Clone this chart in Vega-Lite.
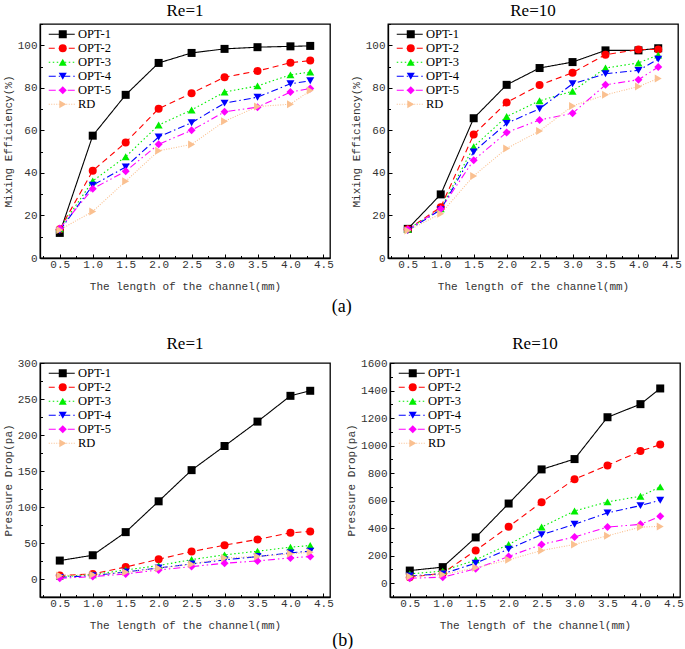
{
  "$schema": "https://vega.github.io/schema/vega-lite/v6.json",
  "padding": {"left": 1, "top": 0, "right": 0, "bottom": 0},
  "config": {
    "view": {"stroke": "#000", "strokeWidth": 1.3},
    "axis": {"grid": false, "domainColor": "#000", "domainWidth": 1.3, "tickColor": "#000", "tickWidth": 1, "tickSize": -4, "labelFont": "Liberation Mono", "labelFontSize": 11, "labelColor": "#333", "titleFont": "Liberation Mono", "titleFontSize": 11, "titleFontWeight": "normal", "titleColor": "#333"},
    "axisX": {"labelPadding": 4, "titlePadding": 11},
    "axisY": {"labelPadding": 7},
    "title": {"font": "Liberation Serif", "fontSize": 17, "fontWeight": "normal", "color": "#000", "offset": 4},
    "legend": {"labelFont": "Liberation Serif", "labelFontSize": 12.5, "labelColor": "#000", "rowPadding": 1, "padding": 0, "title": null}
  },
  "datasets": {
    "me1": [
      {"x":0.5,"y":11.8,"s":"OPT-1"},{"x":1.0,"y":57.5,"s":"OPT-1"},{"x":1.5,"y":76.7,"s":"OPT-1"},{"x":2.0,"y":91.7,"s":"OPT-1"},{"x":2.5,"y":96.4,"s":"OPT-1"},{"x":3.0,"y":98.3,"s":"OPT-1"},{"x":3.5,"y":99.1,"s":"OPT-1"},{"x":4.0,"y":99.5,"s":"OPT-1"},{"x":4.3,"y":99.7,"s":"OPT-1"},
      {"x":0.5,"y":13.5,"s":"OPT-2"},{"x":1.0,"y":41.0,"s":"OPT-2"},{"x":1.5,"y":54.3,"s":"OPT-2"},{"x":2.0,"y":70.2,"s":"OPT-2"},{"x":2.5,"y":77.5,"s":"OPT-2"},{"x":3.0,"y":85.0,"s":"OPT-2"},{"x":3.5,"y":87.9,"s":"OPT-2"},{"x":4.0,"y":91.8,"s":"OPT-2"},{"x":4.3,"y":92.8,"s":"OPT-2"},
      {"x":0.5,"y":13.7,"s":"OPT-3"},{"x":1.0,"y":36.2,"s":"OPT-3"},{"x":1.5,"y":47.6,"s":"OPT-3"},{"x":2.0,"y":62.5,"s":"OPT-3"},{"x":2.5,"y":69.6,"s":"OPT-3"},{"x":3.0,"y":78.0,"s":"OPT-3"},{"x":3.5,"y":80.9,"s":"OPT-3"},{"x":4.0,"y":86.1,"s":"OPT-3"},{"x":4.3,"y":87.4,"s":"OPT-3"},
      {"x":0.5,"y":12.9,"s":"OPT-4"},{"x":1.0,"y":34.2,"s":"OPT-4"},{"x":1.5,"y":42.8,"s":"OPT-4"},{"x":2.0,"y":56.9,"s":"OPT-4"},{"x":2.5,"y":63.6,"s":"OPT-4"},{"x":3.0,"y":72.8,"s":"OPT-4"},{"x":3.5,"y":75.6,"s":"OPT-4"},{"x":4.0,"y":81.9,"s":"OPT-4"},{"x":4.3,"y":83.3,"s":"OPT-4"},
      {"x":0.5,"y":13.9,"s":"OPT-5"},{"x":1.0,"y":32.6,"s":"OPT-5"},{"x":1.5,"y":40.8,"s":"OPT-5"},{"x":2.0,"y":53.5,"s":"OPT-5"},{"x":2.5,"y":60.0,"s":"OPT-5"},{"x":3.0,"y":68.7,"s":"OPT-5"},{"x":3.5,"y":70.9,"s":"OPT-5"},{"x":4.0,"y":78.0,"s":"OPT-5"},{"x":4.3,"y":79.7,"s":"OPT-5"},
      {"x":0.5,"y":13.2,"s":"RD"},{"x":1.0,"y":21.9,"s":"RD"},{"x":1.5,"y":36.1,"s":"RD"},{"x":2.0,"y":50.4,"s":"RD"},{"x":2.5,"y":53.4,"s":"RD"},{"x":3.0,"y":64.3,"s":"RD"},{"x":3.5,"y":71.2,"s":"RD"},{"x":4.0,"y":72.3,"s":"RD"},{"x":4.3,"y":78.7,"s":"RD"}
    ],
    "me10": [
      {"x":0.5,"y":13.7,"s":"OPT-1"},{"x":1.0,"y":29.9,"s":"OPT-1"},{"x":1.5,"y":65.7,"s":"OPT-1"},{"x":2.0,"y":81.4,"s":"OPT-1"},{"x":2.5,"y":89.3,"s":"OPT-1"},{"x":3.0,"y":92.1,"s":"OPT-1"},{"x":3.5,"y":97.6,"s":"OPT-1"},{"x":4.0,"y":97.6,"s":"OPT-1"},{"x":4.3,"y":98.6,"s":"OPT-1"},
      {"x":0.5,"y":13.5,"s":"OPT-2"},{"x":1.0,"y":23.9,"s":"OPT-2"},{"x":1.5,"y":58.0,"s":"OPT-2"},{"x":2.0,"y":73.1,"s":"OPT-2"},{"x":2.5,"y":81.3,"s":"OPT-2"},{"x":3.0,"y":87.1,"s":"OPT-2"},{"x":3.5,"y":95.6,"s":"OPT-2"},{"x":4.0,"y":98.0,"s":"OPT-2"},{"x":4.3,"y":98.0,"s":"OPT-2"},
      {"x":0.5,"y":13.5,"s":"OPT-3"},{"x":1.0,"y":23.1,"s":"OPT-3"},{"x":1.5,"y":52.3,"s":"OPT-3"},{"x":2.0,"y":66.5,"s":"OPT-3"},{"x":2.5,"y":73.9,"s":"OPT-3"},{"x":3.0,"y":78.4,"s":"OPT-3"},{"x":3.5,"y":89.3,"s":"OPT-3"},{"x":4.0,"y":91.7,"s":"OPT-3"},{"x":4.3,"y":95.4,"s":"OPT-3"},
      {"x":0.5,"y":12.9,"s":"OPT-4"},{"x":1.0,"y":22.7,"s":"OPT-4"},{"x":1.5,"y":49.9,"s":"OPT-4"},{"x":2.0,"y":63.3,"s":"OPT-4"},{"x":2.5,"y":70.2,"s":"OPT-4"},{"x":3.0,"y":81.9,"s":"OPT-4"},{"x":3.5,"y":86.6,"s":"OPT-4"},{"x":4.0,"y":88.2,"s":"OPT-4"},{"x":4.3,"y":93.5,"s":"OPT-4"},
      {"x":0.5,"y":13.5,"s":"OPT-5"},{"x":1.0,"y":23.0,"s":"OPT-5"},{"x":1.5,"y":46.0,"s":"OPT-5"},{"x":2.0,"y":59.0,"s":"OPT-5"},{"x":2.5,"y":64.9,"s":"OPT-5"},{"x":3.0,"y":68.0,"s":"OPT-5"},{"x":3.5,"y":81.4,"s":"OPT-5"},{"x":4.0,"y":83.8,"s":"OPT-5"},{"x":4.3,"y":89.8,"s":"OPT-5"},
      {"x":0.5,"y":12.9,"s":"RD"},{"x":1.0,"y":20.8,"s":"RD"},{"x":1.5,"y":38.6,"s":"RD"},{"x":2.0,"y":51.5,"s":"RD"},{"x":2.5,"y":59.7,"s":"RD"},{"x":3.0,"y":71.5,"s":"RD"},{"x":3.5,"y":76.7,"s":"RD"},{"x":4.0,"y":80.6,"s":"RD"},{"x":4.3,"y":84.4,"s":"RD"}
    ],
    "pd1": [
      {"x":0.5,"y":25.6,"s":"OPT-1"},{"x":1.0,"y":33.0,"s":"OPT-1"},{"x":1.5,"y":65.1,"s":"OPT-1"},{"x":2.0,"y":107.9,"s":"OPT-1"},{"x":2.5,"y":151.2,"s":"OPT-1"},{"x":3.0,"y":184.7,"s":"OPT-1"},{"x":3.5,"y":218.6,"s":"OPT-1"},{"x":4.0,"y":254.4,"s":"OPT-1"},{"x":4.3,"y":261.4,"s":"OPT-1"},
      {"x":0.5,"y":4.7,"s":"OPT-2"},{"x":1.0,"y":7.0,"s":"OPT-2"},{"x":1.5,"y":16.7,"s":"OPT-2"},{"x":2.0,"y":27.4,"s":"OPT-2"},{"x":2.5,"y":38.1,"s":"OPT-2"},{"x":3.0,"y":47.0,"s":"OPT-2"},{"x":3.5,"y":54.9,"s":"OPT-2"},{"x":4.0,"y":64.2,"s":"OPT-2"},{"x":4.3,"y":66.0,"s":"OPT-2"},
      {"x":0.5,"y":3.3,"s":"OPT-3"},{"x":1.0,"y":6.0,"s":"OPT-3"},{"x":1.5,"y":12.6,"s":"OPT-3"},{"x":2.0,"y":18.6,"s":"OPT-3"},{"x":2.5,"y":27.0,"s":"OPT-3"},{"x":3.0,"y":33.5,"s":"OPT-3"},{"x":3.5,"y":38.6,"s":"OPT-3"},{"x":4.0,"y":44.2,"s":"OPT-3"},{"x":4.3,"y":46.5,"s":"OPT-3"},
      {"x":0.5,"y":2.3,"s":"OPT-4"},{"x":1.0,"y":4.7,"s":"OPT-4"},{"x":1.5,"y":9.8,"s":"OPT-4"},{"x":2.0,"y":15.3,"s":"OPT-4"},{"x":2.5,"y":20.9,"s":"OPT-4"},{"x":3.0,"y":26.5,"s":"OPT-4"},{"x":3.5,"y":31.2,"s":"OPT-4"},{"x":4.0,"y":36.3,"s":"OPT-4"},{"x":4.3,"y":38.6,"s":"OPT-4"},
      {"x":0.5,"y":1.0,"s":"OPT-5"},{"x":1.0,"y":3.3,"s":"OPT-5"},{"x":1.5,"y":7.0,"s":"OPT-5"},{"x":2.0,"y":12.6,"s":"OPT-5"},{"x":2.5,"y":17.2,"s":"OPT-5"},{"x":3.0,"y":21.9,"s":"OPT-5"},{"x":3.5,"y":25.1,"s":"OPT-5"},{"x":4.0,"y":29.3,"s":"OPT-5"},{"x":4.3,"y":31.2,"s":"OPT-5"},
      {"x":0.5,"y":4.7,"s":"RD"},{"x":1.0,"y":6.0,"s":"RD"},{"x":1.5,"y":9.3,"s":"RD"},{"x":2.0,"y":14.9,"s":"RD"},{"x":2.5,"y":20.5,"s":"RD"},{"x":3.0,"y":29.3,"s":"RD"},{"x":3.5,"y":31.2,"s":"RD"},{"x":4.0,"y":34.9,"s":"RD"},{"x":4.3,"y":37.2,"s":"RD"}
    ],
    "pd10": [
      {"x":0.5,"y":92,"s":"OPT-1"},{"x":1.0,"y":117,"s":"OPT-1"},{"x":1.5,"y":333,"s":"OPT-1"},{"x":2.0,"y":579,"s":"OPT-1"},{"x":2.5,"y":827,"s":"OPT-1"},{"x":3.0,"y":902,"s":"OPT-1"},{"x":3.5,"y":1206,"s":"OPT-1"},{"x":4.0,"y":1301,"s":"OPT-1"},{"x":4.3,"y":1415,"s":"OPT-1"},
      {"x":0.5,"y":44,"s":"OPT-2"},{"x":1.0,"y":73,"s":"OPT-2"},{"x":1.5,"y":238,"s":"OPT-2"},{"x":2.0,"y":411,"s":"OPT-2"},{"x":2.5,"y":588,"s":"OPT-2"},{"x":3.0,"y":756,"s":"OPT-2"},{"x":3.5,"y":856,"s":"OPT-2"},{"x":4.0,"y":960,"s":"OPT-2"},{"x":4.3,"y":1007,"s":"OPT-2"},
      {"x":0.5,"y":68,"s":"OPT-3"},{"x":1.0,"y":88,"s":"OPT-3"},{"x":1.5,"y":170,"s":"OPT-3"},{"x":2.0,"y":282,"s":"OPT-3"},{"x":2.5,"y":408,"s":"OPT-3"},{"x":3.0,"y":525,"s":"OPT-3"},{"x":3.5,"y":591,"s":"OPT-3"},{"x":4.0,"y":632,"s":"OPT-3"},{"x":4.3,"y":700,"s":"OPT-3"},
      {"x":0.5,"y":53,"s":"OPT-4"},{"x":1.0,"y":68,"s":"OPT-4"},{"x":1.5,"y":146,"s":"OPT-4"},{"x":2.0,"y":248,"s":"OPT-4"},{"x":2.5,"y":353,"s":"OPT-4"},{"x":3.0,"y":428,"s":"OPT-4"},{"x":3.5,"y":511,"s":"OPT-4"},{"x":4.0,"y":564,"s":"OPT-4"},{"x":4.3,"y":603,"s":"OPT-4"},
      {"x":0.5,"y":36,"s":"OPT-5"},{"x":1.0,"y":44,"s":"OPT-5"},{"x":1.5,"y":105,"s":"OPT-5"},{"x":2.0,"y":195,"s":"OPT-5"},{"x":2.5,"y":282,"s":"OPT-5"},{"x":3.0,"y":336,"s":"OPT-5"},{"x":3.5,"y":408,"s":"OPT-5"},{"x":4.0,"y":428,"s":"OPT-5"},{"x":4.3,"y":486,"s":"OPT-5"},
      {"x":0.5,"y":49,"s":"RD"},{"x":1.0,"y":63,"s":"RD"},{"x":1.5,"y":112,"s":"RD"},{"x":2.0,"y":170,"s":"RD"},{"x":2.5,"y":238,"s":"RD"},{"x":3.0,"y":282,"s":"RD"},{"x":3.5,"y":345,"s":"RD"},{"x":4.0,"y":408,"s":"RD"},{"x":4.3,"y":413,"s":"RD"}
    ]
  },
  "spacing": 18,
  "resolve": {"scale": {"stroke": "independent", "strokeDash": "independent", "fill": "independent", "shape": "independent"}},
  "vconcat": [
    {
      "title": {"text": "(a)", "orient": "bottom", "anchor": "middle", "fontSize": 18, "offset": 6},
      "spacing": 15,
      "resolve": {"scale": {"stroke": "independent", "strokeDash": "independent", "fill": "independent", "shape": "independent"}},
      "hconcat": [
        {
          "width": 290, "height": 234,
          "title": {"text": "Re=1"},
          "data": {"name": "me1"},
          "resolve": {"axis": {"x": "independent", "y": "independent"}},
          "layer": [
            {"mark": {"type": "line", "strokeWidth": 1.1},
             "encoding": {
               "x": {"field": "x", "type": "quantitative", "scale": {"domain": [0.2, 4.6], "nice": false, "zero": false}, "axis": {"orient": "bottom", "values": [0.5,1,1.5,2,2.5,3,3.5,4,4.5], "format": ".1f", "title": "The length of the channel(mm)"}},
               "y": {"field": "y", "type": "quantitative", "scale": {"domain": [0, 110], "nice": false, "zero": false}, "axis": {"orient": "left", "values": [0,20,40,60,80,100], "title": "Mixing Efficiency(%)"}},
               "stroke": {"field": "s", "type": "nominal", "scale": {"domain": ["OPT-1","OPT-2","OPT-3","OPT-4","OPT-5","RD"], "range": ["#000000","#FF0000","#00EE00","#0000FF","#FF00FF","#FAC090"]}, "legend": {"orient": "none", "legendX": 15.5, "legendY": 4, "symbolType": "M-2.6,0H2.6", "symbolSize": 100, "symbolStrokeWidth": 1.1, "labelOffset": 10}},
               "strokeDash": {"field": "s", "type": "nominal", "scale": {"domain": ["OPT-1","OPT-2","OPT-3","OPT-4","OPT-5","RD"], "range": [[1,0],[6,4],[1.5,2.5],[7,3,1.5,3],[7,3,1.5,3,1.5,3],[1,1.5]]}, "legend": {"orient": "none", "legendX": 15.5, "legendY": 4, "symbolType": "M-2.6,0H2.6", "symbolSize": 100, "symbolStrokeWidth": 1.1, "labelOffset": 10}}
             }},
            {"mark": {"type": "point", "filled": true, "size": 64, "opacity": 1},
             "encoding": {
               "x": {"field": "x", "type": "quantitative", "scale": {"domain": [0.2, 4.6], "nice": false, "zero": false}, "axis": {"orient": "bottom", "values": [0.25,0.75,1.25,1.75,2.25,2.75,3.25,3.75,4.25], "labels": false, "domain": false, "title": null, "tickSize": -2.5}},
               "y": {"field": "y", "type": "quantitative", "scale": {"domain": [0, 110], "nice": false, "zero": false}, "axis": {"orient": "left", "values": [10,30,50,70,90,110], "labels": false, "domain": false, "title": null, "tickSize": -2.5}},
               "fill": {"field": "s", "type": "nominal", "scale": {"range": ["#000000","#FF0000","#00EE00","#0000FF","#FF00FF","#FAC090"]}, "legend": {"orient": "none", "legendX": 16.5, "legendY": 4, "labelExpr": "' '", "symbolSize": 64, "symbolStrokeWidth": 0}},
               "shape": {"field": "s", "type": "nominal", "scale": {"range": ["square","circle","triangle-up","triangle-down","diamond","triangle-right"]}, "legend": {"orient": "none", "legendX": 16.5, "legendY": 4, "labelExpr": "' '", "symbolSize": 64, "symbolStrokeWidth": 0}}
             }}
          ]
        },
        {
          "width": 290, "height": 234,
          "title": {"text": "Re=10"},
          "data": {"name": "me10"},
          "resolve": {"axis": {"x": "independent", "y": "independent"}},
          "layer": [
            {"mark": {"type": "line", "strokeWidth": 1.1},
             "encoding": {
               "x": {"field": "x", "type": "quantitative", "scale": {"domain": [0.2, 4.6], "nice": false, "zero": false}, "axis": {"orient": "bottom", "values": [0.5,1,1.5,2,2.5,3,3.5,4,4.5], "format": ".1f", "title": "The length of the channel(mm)"}},
               "y": {"field": "y", "type": "quantitative", "scale": {"domain": [0, 110], "nice": false, "zero": false}, "axis": {"orient": "left", "values": [0,20,40,60,80,100], "title": "Mixing Efficiency(%)"}},
               "stroke": {"field": "s", "type": "nominal", "scale": {"domain": ["OPT-1","OPT-2","OPT-3","OPT-4","OPT-5","RD"], "range": ["#000000","#FF0000","#00EE00","#0000FF","#FF00FF","#FAC090"]}, "legend": {"orient": "none", "legendX": 15.5, "legendY": 4, "symbolType": "M-2.6,0H2.6", "symbolSize": 100, "symbolStrokeWidth": 1.1, "labelOffset": 10}},
               "strokeDash": {"field": "s", "type": "nominal", "scale": {"domain": ["OPT-1","OPT-2","OPT-3","OPT-4","OPT-5","RD"], "range": [[1,0],[6,4],[1.5,2.5],[7,3,1.5,3],[7,3,1.5,3,1.5,3],[1,1.5]]}, "legend": {"orient": "none", "legendX": 15.5, "legendY": 4, "symbolType": "M-2.6,0H2.6", "symbolSize": 100, "symbolStrokeWidth": 1.1, "labelOffset": 10}}
             }},
            {"mark": {"type": "point", "filled": true, "size": 64, "opacity": 1},
             "encoding": {
               "x": {"field": "x", "type": "quantitative", "scale": {"domain": [0.2, 4.6], "nice": false, "zero": false}, "axis": {"orient": "bottom", "values": [0.25,0.75,1.25,1.75,2.25,2.75,3.25,3.75,4.25], "labels": false, "domain": false, "title": null, "tickSize": -2.5}},
               "y": {"field": "y", "type": "quantitative", "scale": {"domain": [0, 110], "nice": false, "zero": false}, "axis": {"orient": "left", "values": [10,30,50,70,90,110], "labels": false, "domain": false, "title": null, "tickSize": -2.5}},
               "fill": {"field": "s", "type": "nominal", "scale": {"range": ["#000000","#FF0000","#00EE00","#0000FF","#FF00FF","#FAC090"]}, "legend": {"orient": "none", "legendX": 16.5, "legendY": 4, "labelExpr": "' '", "symbolSize": 64, "symbolStrokeWidth": 0}},
               "shape": {"field": "s", "type": "nominal", "scale": {"range": ["square","circle","triangle-up","triangle-down","diamond","triangle-right"]}, "legend": {"orient": "none", "legendX": 16.5, "legendY": 4, "labelExpr": "' '", "symbolSize": 64, "symbolStrokeWidth": 0}}
             }}
          ]
        }
      ]
    },
    {
      "title": {"text": "(b)", "orient": "bottom", "anchor": "middle", "fontSize": 18, "offset": 1},
      "spacing": 10,
      "resolve": {"scale": {"stroke": "independent", "strokeDash": "independent", "fill": "independent", "shape": "independent"}},
      "hconcat": [
        {
          "width": 290, "height": 234,
          "title": {"text": "Re=1"},
          "data": {"name": "pd1"},
          "resolve": {"axis": {"x": "independent", "y": "independent"}},
          "layer": [
            {"mark": {"type": "line", "strokeWidth": 1.1},
             "encoding": {
               "x": {"field": "x", "type": "quantitative", "scale": {"domain": [0.2, 4.6], "nice": false, "zero": false}, "axis": {"orient": "bottom", "values": [0.5,1,1.5,2,2.5,3,3.5,4,4.5], "format": ".1f", "title": "The length of the channel(mm)"}},
               "y": {"field": "y", "type": "quantitative", "scale": {"domain": [-25, 300], "nice": false, "zero": false}, "axis": {"orient": "left", "values": [0,50,100,150,200,250,300], "title": "Pressure Drop(pa)"}},
               "stroke": {"field": "s", "type": "nominal", "scale": {"domain": ["OPT-1","OPT-2","OPT-3","OPT-4","OPT-5","RD"], "range": ["#000000","#FF0000","#00EE00","#0000FF","#FF00FF","#FAC090"]}, "legend": {"orient": "none", "legendX": 15.5, "legendY": 4, "symbolType": "M-2.6,0H2.6", "symbolSize": 100, "symbolStrokeWidth": 1.1, "labelOffset": 10}},
               "strokeDash": {"field": "s", "type": "nominal", "scale": {"domain": ["OPT-1","OPT-2","OPT-3","OPT-4","OPT-5","RD"], "range": [[1,0],[6,4],[1.5,2.5],[7,3,1.5,3],[7,3,1.5,3,1.5,3],[1,1.5]]}, "legend": {"orient": "none", "legendX": 15.5, "legendY": 4, "symbolType": "M-2.6,0H2.6", "symbolSize": 100, "symbolStrokeWidth": 1.1, "labelOffset": 10}}
             }},
            {"mark": {"type": "point", "filled": true, "size": 64, "opacity": 1},
             "encoding": {
               "x": {"field": "x", "type": "quantitative", "scale": {"domain": [0.2, 4.6], "nice": false, "zero": false}, "axis": {"orient": "bottom", "values": [0.25,0.75,1.25,1.75,2.25,2.75,3.25,3.75,4.25], "labels": false, "domain": false, "title": null, "tickSize": -2.5}},
               "y": {"field": "y", "type": "quantitative", "scale": {"domain": [-25, 300], "nice": false, "zero": false}, "axis": {"orient": "left", "values": [25,75,125,175,225,275], "labels": false, "domain": false, "title": null, "tickSize": -2.5}},
               "fill": {"field": "s", "type": "nominal", "scale": {"range": ["#000000","#FF0000","#00EE00","#0000FF","#FF00FF","#FAC090"]}, "legend": {"orient": "none", "legendX": 16.5, "legendY": 4, "labelExpr": "' '", "symbolSize": 64, "symbolStrokeWidth": 0}},
               "shape": {"field": "s", "type": "nominal", "scale": {"range": ["square","circle","triangle-up","triangle-down","diamond","triangle-right"]}, "legend": {"orient": "none", "legendX": 16.5, "legendY": 4, "labelExpr": "' '", "symbolSize": 64, "symbolStrokeWidth": 0}}
             }}
          ]
        },
        {
          "width": 290, "height": 234,
          "title": {"text": "Re=10"},
          "data": {"name": "pd10"},
          "resolve": {"axis": {"x": "independent", "y": "independent"}},
          "layer": [
            {"mark": {"type": "line", "strokeWidth": 1.1},
             "encoding": {
               "x": {"field": "x", "type": "quantitative", "scale": {"domain": [0.2, 4.6], "nice": false, "zero": false}, "axis": {"orient": "bottom", "values": [0.5,1,1.5,2,2.5,3,3.5,4,4.5], "format": ".1f", "title": "The length of the channel(mm)"}},
               "y": {"field": "y", "type": "quantitative", "scale": {"domain": [-100, 1600], "nice": false, "zero": false}, "axis": {"orient": "left", "values": [0,200,400,600,800,1000,1200,1400,1600], "format": "d", "title": "Pressure Drop(pa)"}},
               "stroke": {"field": "s", "type": "nominal", "scale": {"domain": ["OPT-1","OPT-2","OPT-3","OPT-4","OPT-5","RD"], "range": ["#000000","#FF0000","#00EE00","#0000FF","#FF00FF","#FAC090"]}, "legend": {"orient": "none", "legendX": 15.5, "legendY": 4, "symbolType": "M-2.6,0H2.6", "symbolSize": 100, "symbolStrokeWidth": 1.1, "labelOffset": 10}},
               "strokeDash": {"field": "s", "type": "nominal", "scale": {"domain": ["OPT-1","OPT-2","OPT-3","OPT-4","OPT-5","RD"], "range": [[1,0],[6,4],[1.5,2.5],[7,3,1.5,3],[7,3,1.5,3,1.5,3],[1,1.5]]}, "legend": {"orient": "none", "legendX": 15.5, "legendY": 4, "symbolType": "M-2.6,0H2.6", "symbolSize": 100, "symbolStrokeWidth": 1.1, "labelOffset": 10}}
             }},
            {"mark": {"type": "point", "filled": true, "size": 64, "opacity": 1},
             "encoding": {
               "x": {"field": "x", "type": "quantitative", "scale": {"domain": [0.2, 4.6], "nice": false, "zero": false}, "axis": {"orient": "bottom", "values": [0.25,0.75,1.25,1.75,2.25,2.75,3.25,3.75,4.25], "labels": false, "domain": false, "title": null, "tickSize": -2.5}},
               "y": {"field": "y", "type": "quantitative", "scale": {"domain": [-100, 1600], "nice": false, "zero": false}, "axis": {"orient": "left", "values": [100,300,500,700,900,1100,1300,1500], "labels": false, "domain": false, "title": null, "tickSize": -2.5}},
               "fill": {"field": "s", "type": "nominal", "scale": {"range": ["#000000","#FF0000","#00EE00","#0000FF","#FF00FF","#FAC090"]}, "legend": {"orient": "none", "legendX": 16.5, "legendY": 4, "labelExpr": "' '", "symbolSize": 64, "symbolStrokeWidth": 0}},
               "shape": {"field": "s", "type": "nominal", "scale": {"range": ["square","circle","triangle-up","triangle-down","diamond","triangle-right"]}, "legend": {"orient": "none", "legendX": 16.5, "legendY": 4, "labelExpr": "' '", "symbolSize": 64, "symbolStrokeWidth": 0}}
             }}
          ]
        }
      ]
    }
  ]
}
